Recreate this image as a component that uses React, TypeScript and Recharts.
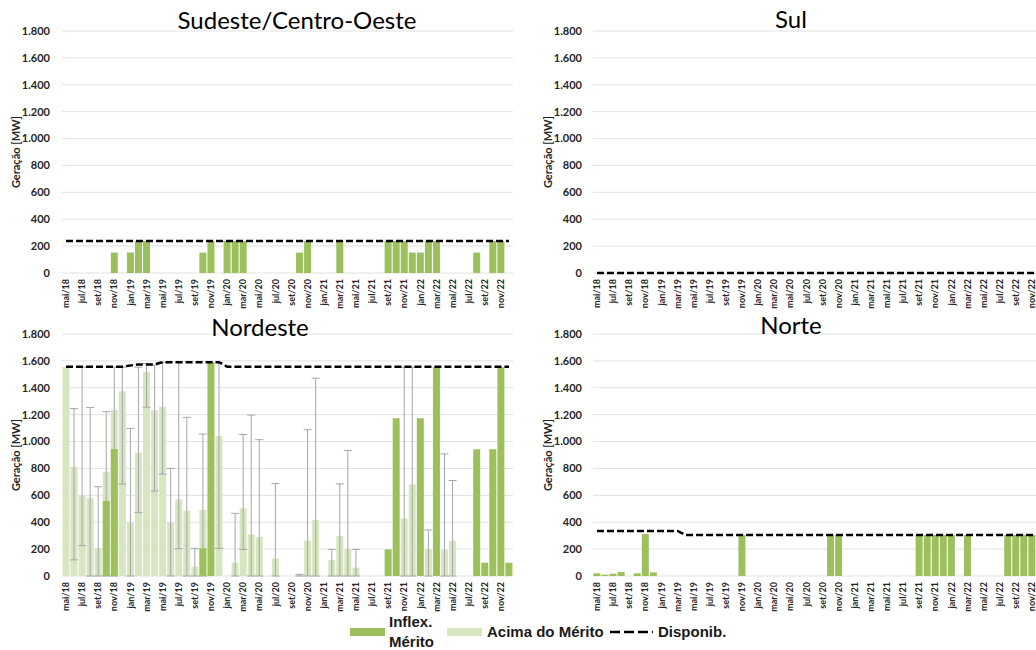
import React from 'react';
import { ComposedChart, Bar, Line, XAxis, YAxis, CartesianGrid, ErrorBar } from 'recharts';

const _ = null;

const months = [
  'mai/18', 'jun/18', 'jul/18', 'ago/18', 'set/18', 'out/18', 'nov/18', 'dez/18',
  'jan/19', 'fev/19', 'mar/19', 'abr/19', 'mai/19', 'jun/19', 'jul/19', 'ago/19', 'set/19', 'out/19', 'nov/19', 'dez/19',
  'jan/20', 'fev/20', 'mar/20', 'abr/20', 'mai/20', 'jun/20', 'jul/20', 'ago/20', 'set/20', 'out/20', 'nov/20', 'dez/20',
  'jan/21', 'fev/21', 'mar/21', 'abr/21', 'mai/21', 'jun/21', 'jul/21', 'ago/21', 'set/21', 'out/21', 'nov/21', 'dez/21',
  'jan/22', 'fev/22', 'mar/22', 'abr/22', 'mai/22', 'jun/22', 'jul/22', 'ago/22', 'set/22', 'out/22', 'nov/22', 'dez/22',
];

const yTicks = [0, 200, 400, 600, 800, 1000, 1200, 1400, 1600, 1800];

// Sudeste/Centro-Oeste
const seInflex = [
  _, _, _, _, _, _, 152, _,
  152, 238, 238, _, _, _, _, _, _, 152, 238, _,
  238, 238, 238, _, _, _, _, _, _, 152, 238, _,
  _, _, 238, _, _, _, _, _, 238, 238, 238, 152,
  152, 238, 238, _, _, _, _, 152, _, 238, 238, _,
];
const seDisp = months.map(() => 238);

// Sul
const sulInflex = months.map(() => null);
const sulDisp = months.map(() => 0);

// Nordeste
const neInflex = [
  _, _, _, _, _, 558, 944, _,
  _, _, _, _, _, _, _, _, _, 206, 1589, _,
  _, _, _, _, _, _, _, _, _, _, _, _,
  _, _, _, _, _, _, _, _, 198, 1174, _, _,
  1174, _, 1553, _, _, _, _, 943, 99, 943, 1553, 99,
];
const neAcima = [
  1555, 812, 598, 582, 206, 776, 1234, 1375,
  397, 917, 1519, 1234, 1259, 399, 570, 486, 69, 491, _, 1041,
  _, 99, 503, 310, 290, _, 129, _, _, 7, 263, 417,
  _, 119, 298, 198, 62, _, _, _, _, _, 429, 682,
  _, 198, _, 194, 260, _, _, _, _, _, _, _,
];
const neMin = [
  _, 120, 226, 0, 0, 0, 0, 684,
  0, 471, 1256, 632, 758, 0, 203, 0, 0, 0, _, 206,
  _, 0, 198, 0, 0, _, 0, _, _, 0, 0, 0,
  _, 0, 0, 0, 0, _, _, _, _, _, 0, 0,
  _, 0, _, 0, 0, _, _, _, _, _, _, _,
];
const neMax = [
  _, 1245, 1553, 1254, 664, 1222, 1553, 1553,
  1098, 1553, 1581, 1569, 1589, 800, 1589, 1180, 206, 1056, _, 1589,
  _, 466, 1053, 1197, 1014, _, 687, _, _, 12, 1088, 1471,
  _, 198, 685, 933, 198, _, _, _, _, _, 1553, 1553,
  _, 342, _, 908, 710, _, _, _, _, _, _, _,
];
const neDisp = [
  1557, 1557, 1557, 1557, 1557, 1557, 1557, 1557,
  1566, 1574, 1574, 1574, 1590, 1590, 1590, 1590, 1590, 1590, 1590, 1590,
  1557, 1557, 1557, 1557, 1557, 1557, 1557, 1557, 1557, 1557, 1557, 1557,
  1557, 1557, 1557, 1557, 1557, 1557, 1557, 1557, 1557, 1557, 1557, 1557,
  1557, 1557, 1557, 1557, 1557, 1557, 1557, 1557, 1557, 1557, 1557, 1557,
];

// Norte
const noInflex = [
  20, 10, 17, 30, _, 20, 312, 27,
  _, _, _, _, _, _, _, _, _, _, 305, _,
  _, _, _, _, _, _, _, _, _, 305, 305, _,
  _, _, _, _, _, _, _, _, 305, 305, 305, 305,
  305, _, 305, _, _, _, _, 305, 305, 305, 305, 305,
];
const noDisp = [
  335, 335, 335, 335, 335, 335, 335, 335,
  335, 335, 335, 305, 305, 305, 305, 305, 305, 305, 305, 305,
  305, 305, 305, 305, 305, 305, 305, 305, 305, 305, 305, 305,
  305, 305, 305, 305, 305, 305, 305, 305, 305, 305, 305, 305,
  305, 305, 305, 305, 305, 305, 305, 305, 305, 305, 305, 305,
];

const DARK = '#9CC05C';
const LIGHT = '#D7E6C0';
const TXT = '#262626';

type Row = { m: string; dark: number | null; light: number | null; err: number[] | null; disp: number };

function buildRows(inflex: (number | null)[], disp: number[], acima?: (number | null)[], mn?: (number | null)[], mx?: (number | null)[]): Row[] {
  return months.map((m, i) => {
    const light = acima ? acima[i] : null;
    const lo = mn ? mn[i] : null;
    const hi = mx ? mx[i] : null;
    const err = light != null && lo != null && hi != null ? [light - lo, hi - light] : null;
    return { m, dark: inflex[i], light, err, disp: disp[i] };
  });
}

const fmt = (v: number) => String(v).replace(/\B(?=(\d{3})+(?!\d))/g, '.');

const MonthTick = (props: any) => {
  const { x, y, payload } = props;
  return (
    <text x={x} y={y} transform={`rotate(-90 ${x} ${y})`} textAnchor="end" dy="0.35em"
      fontSize={9} fontWeight={700} fontFamily="Lato" fill={TXT}>{payload.value}</text>
  );
};

function Panel({ left, top, rows, tickMargin }: { left: number; top: number; rows: Row[]; tickMargin: number }) {
  const darkProps: any = { zIndex: 500 };
  const lineProps: any = { zIndex: 600 };
  return (
    <div style={{ position: 'absolute', left, top, width: 525, height: 320 }}>
      <ComposedChart width={525} height={320} data={rows} margin={{ top: 31, right: 12, bottom: 0, left: 0 }} barCategoryGap="6%">
        <CartesianGrid vertical={false} stroke="#E2E2E2" xAxisId="a" />
        <XAxis xAxisId="a" dataKey="m" interval={1} tick={MonthTick} tickLine={false}
          axisLine={false} height={47} tickSize={0} tickMargin={6} />
        <XAxis xAxisId="b" dataKey="m" hide />
        <YAxis domain={[0, 1800]} ticks={yTicks} width={62} axisLine={false} tickLine={false} tickSize={0}
          tickMargin={tickMargin} interval={0} tickFormatter={fmt}
          tick={{ fontSize: 11, fontWeight: 700, fontFamily: 'Lato', fill: TXT }} />
        <Bar xAxisId="b" dataKey="light" fill={LIGHT} isAnimationActive={false}>
          <ErrorBar dataKey="err" width={4} strokeWidth={1} stroke="#A6A6A6" direction="y" />
        </Bar>
        <Bar xAxisId="a" dataKey="dark" fill={DARK} isAnimationActive={false} {...darkProps} />
        <Line xAxisId="a" dataKey="disp" type="linear" stroke="#000" strokeWidth={2.5}
          strokeDasharray="7 3" dot={false} activeDot={false} isAnimationActive={false} {...lineProps} />
      </ComposedChart>
    </div>
  );
}

const titleStyle = (x: number, y: number): React.CSSProperties => ({
  position: 'absolute', left: x, top: y, transform: 'translate(-50%, -50%)', whiteSpace: 'nowrap',
  fontFamily: 'Lato', fontSize: 24, color: '#000', lineHeight: 1,
});

const yLabStyle = (x: number, y: number): React.CSSProperties => ({
  position: 'absolute', left: x, top: y, transform: 'translate(-50%, -50%) rotate(-90deg)', whiteSpace: 'nowrap',
  fontFamily: 'Lato', fontSize: 11, fontWeight: 700, color: TXT, lineHeight: 1,
});

const legText: React.CSSProperties = {
  position: 'absolute', fontFamily: '"Liberation Sans", Arial, sans-serif', fontSize: 15, fontWeight: 700,
  color: '#1a1a1a', lineHeight: '20px', whiteSpace: 'nowrap',
};

export default function App() {
  const seRows = buildRows(seInflex, seDisp);
  const sulRows = buildRows(sulInflex, sulDisp);
  const neRows = buildRows(neInflex, neDisp, neAcima, neMin, neMax);
  const noRows = buildRows(noInflex, noDisp);
  return (
    <div style={{ position: 'absolute', left: 0, top: 0, width: 1036, height: 650, overflow: 'hidden', background: '#fff' }}>
      <Panel left={0} top={0} rows={seRows} tickMargin={12} />
      <Panel left={531} top={0} rows={sulRows} tickMargin={11} />
      <Panel left={0} top={303} rows={neRows} tickMargin={12} />
      <Panel left={531} top={303} rows={noRows} tickMargin={11} />

      <div style={titleStyle(297, 20)}>Sudeste/Centro-Oeste</div>
      <div style={titleStyle(791, 19)}>Sul</div>
      <div style={titleStyle(260, 327)}>Nordeste</div>
      <div style={titleStyle(791, 325)}>Norte</div>

      <div style={yLabStyle(15, 152)}>Geração [MW]</div>
      <div style={yLabStyle(547, 152)}>Geração [MW]</div>
      <div style={yLabStyle(15, 455)}>Geração [MW]</div>
      <div style={yLabStyle(547, 455)}>Geração [MW]</div>

      <div style={{ position: 'absolute', left: 350, top: 628, width: 35, height: 8, background: DARK }} />
      <div style={{ ...legText, left: 389, top: 612 }}>Inflex.<br />Mérito</div>
      <div style={{ position: 'absolute', left: 447, top: 628, width: 35, height: 8, background: LIGHT }} />
      <div style={{ ...legText, left: 487, top: 622 }}>Acima do Mérito</div>
      <svg style={{ position: 'absolute', left: 610, top: 627 }} width={44} height={10}>
        <line x1={0} y1={5} x2={43} y2={5} stroke="#000" strokeWidth={2.5} strokeDasharray="10 4" />
      </svg>
      <div style={{ ...legText, left: 658, top: 622 }}>Disponib.</div>
    </div>
  );
}
